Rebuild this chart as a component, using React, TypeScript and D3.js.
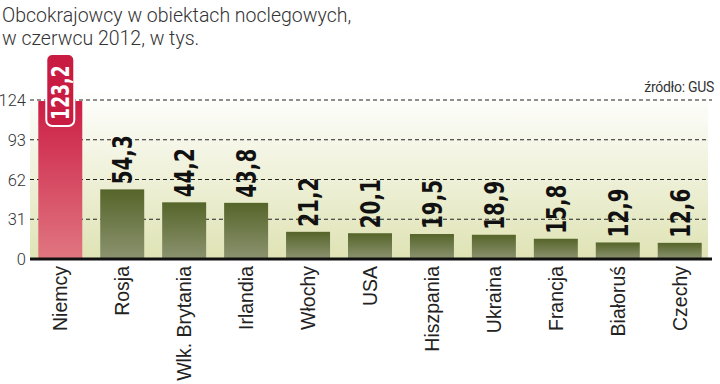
import React from "react";
import * as d3 from "d3";

const categories = ["Niemcy", "Rosja", "Wlk. Brytania", "Irlandia", "Włochy", "USA", "Hiszpania", "Ukraina", "Francja", "Białoruś", "Czechy"];
const values = [123.2, 54.3, 44.2, 43.8, 21.2, 20.1, 19.5, 18.9, 15.8, 12.9, 12.6];
const yTicks = [0, 31, 62, 93, 124];
const titleLines = ["Obcokrajowcy w obiektach noclegowych,", "w czerwcu 2012, w tys."];
const sourceText = "źródło: GUS";

const fmt = (v: number) => v.toFixed(1).replace(".", ",");

export default function App() {
  const W = 720, H = 384;
  const left = 30, right = 708, top = 100, bottom = 259;
  const x = d3.scaleBand<string>().domain(categories).range([29, 711]).paddingInner(0.29).paddingOuter(0.15);
  const y = d3.scaleLinear().domain([0, 124]).range([bottom, top]);
  const labelFont = "'DejaVu Sans Condensed', 'DejaVu Sans', sans-serif";
  const thinFont = "'Liberation Sans Narrow', 'Roboto', 'Liberation Sans', sans-serif";
  return (
    <svg width={W} height={H} style={{ position: "absolute", left: 0, top: 0, background: "#fff" }}>
      <defs>
        <linearGradient id="bg" x1="0" y1="0" x2="0" y2="1">
          <stop offset="0" stopColor="#ffffff" />
          <stop offset="1" stopColor="#dfe3b4" />
        </linearGradient>
        <linearGradient id="gbar" x1="0" y1="0" x2="0" y2="1">
          <stop offset="0" stopColor="#56652a" />
          <stop offset="1" stopColor="#8c9370" />
        </linearGradient>
        <linearGradient id="rbar" x1="0" y1="0" x2="0" y2="1">
          <stop offset="0" stopColor="#cc1e45" />
          <stop offset="1" stopColor="#e07680" />
        </linearGradient>
      </defs>
      <rect x={left} y={top - 10} width={right - left} height={bottom - top + 10} fill="url(#bg)" />
      {titleLines.map((t, i) => (
        <text key={i} x={2} y={22 + i * 23} fontFamily="'Roboto', 'Liberation Sans', sans-serif" fontWeight={300} fontSize={19.5} fill="#333">{t}</text>
      ))}
      <text x={714} y={92} textAnchor="end" fontFamily={thinFont} fontSize={14} fill="#333" letterSpacing={-0.3}>{sourceText}</text>
      {yTicks.map((t) => (
        <g key={t}>
          {t > 0 && (
            <line x1={left} x2={t === 124 ? 712 : right} y1={y(t)} y2={y(t)} stroke="#222" strokeWidth={1} strokeDasharray="4,3" />
          )}
          <text x={26} y={y(t) + 6} textAnchor="end" fontFamily="'Roboto', sans-serif" fontWeight={300} fontSize={16.5} fill="#333">{t}</text>
        </g>
      ))}
      {categories.map((c, i) => {
        const bx = x(c)!;
        const bw = x.bandwidth();
        const cx = bx + bw / 2;
        const by = y(values[i]);
        const first = i === 0;
        return (
          <g key={c}>
            <rect x={bx} y={by} width={bw} height={bottom - by} fill={first ? "url(#rbar)" : "url(#gbar)"} />
            {first ? (
              <g>
                <rect x={cx - 14} y={54} width={28} height={72} rx={6} fill="#c81c43" stroke="#fff" strokeWidth={2} />
                <text transform={`translate(${cx + 9},${by + 19}) rotate(-90) scale(0.8,1)`} fontFamily={labelFont} fontWeight="bold" fontSize={24} fill="#fff">{fmt(values[i])}</text>
              </g>
            ) : (
              <text transform={`translate(${cx + 10},${by - 5}) rotate(-90) scale(0.82,1)`} fontFamily={labelFont} fontWeight="bold" fontSize={27} fill="#111">{fmt(values[i])}</text>
            )}
            <text transform={`translate(${cx + 7},266) rotate(-90)`} textAnchor="end" fontFamily="'Liberation Sans', Arial, sans-serif" fontSize={19.5} fill="#222">{c}</text>
          </g>
        );
      })}
      <line x1={left} x2={712} y1={bottom} y2={bottom} stroke="#111" strokeWidth={3} />
    </svg>
  );
}
